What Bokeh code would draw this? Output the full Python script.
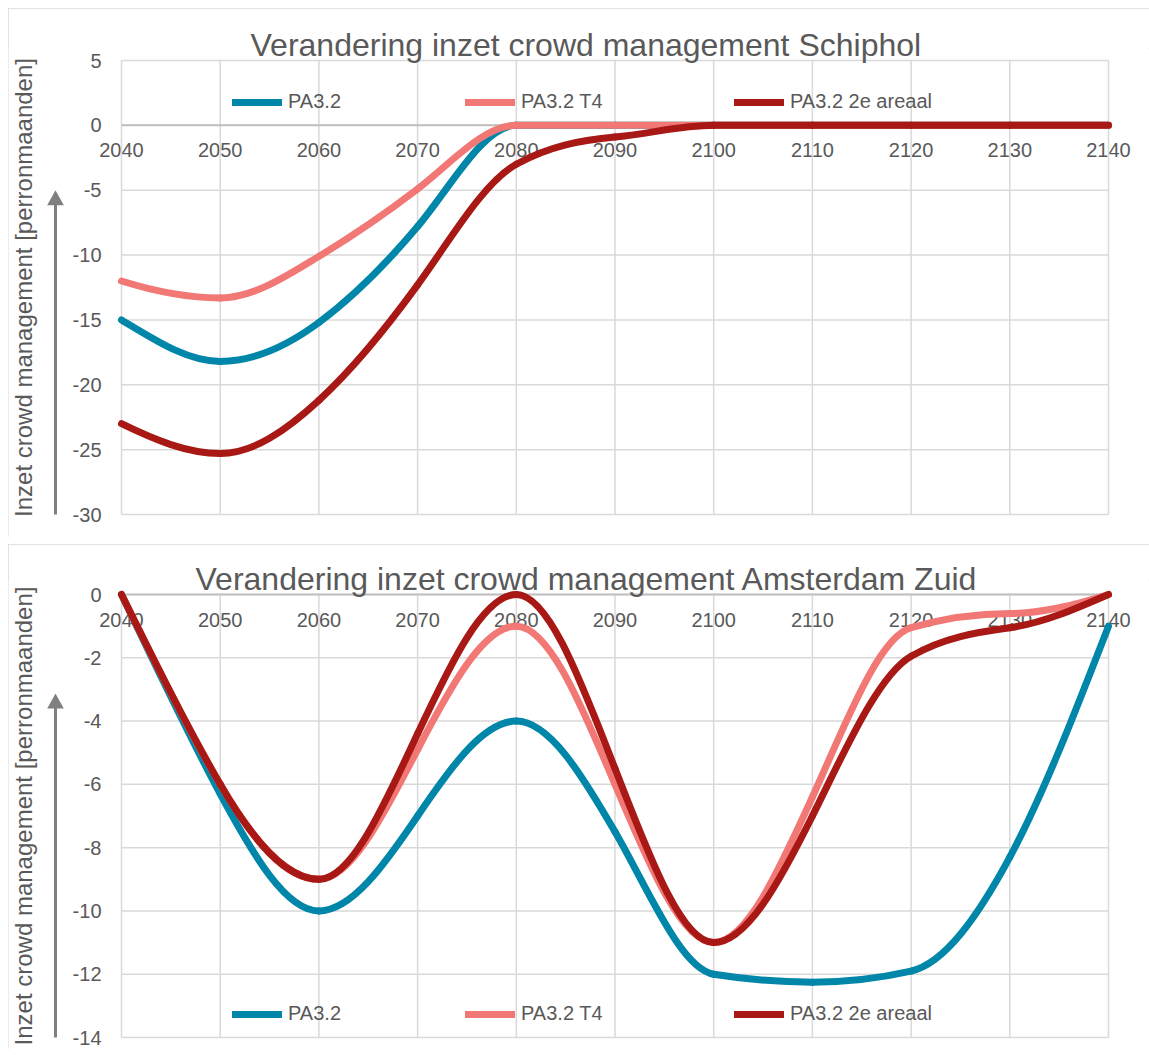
import numpy as np
from bokeh.plotting import figure
from bokeh.models import Range1d, FixedTicker, Legend, LegendItem, PolyAnnotation
from bokeh.layouts import column
from bokeh.embed import file_html
from bokeh.resources import INLINE

# ---------------- data ----------------
years = [2040, 2050, 2060, 2070, 2080, 2090, 2100, 2110, 2120, 2130, 2140]

series_names = ["PA3.2", "PA3.2 T4", "PA3.2 2e areaal"]
series_colors = ["#0086A8", "#F27875", "#A81916"]

# Schiphol
sch_pa32 = [-15.0, -18.2, -15.2, -7.8, 0, 0, 0, 0, 0, 0, 0]
sch_t4 = [-12.0, -13.3, -10.1, -4.9, 0, 0, 0, 0, 0, 0, 0]
sch_2e = [-23.0, -25.3, -21.2, -12.3, -3.0, -0.9, 0, 0, 0, 0, 0]

# Amsterdam Zuid
asd_pa32 = [0, -6.3, -10.0, -7.0, -4.0, -7.5, -12.0, -12.25, -11.9, -8.3, -1.0]
asd_t4 = [0, -6.0, -9.0, -4.9, -1.0, -6.0, -11.0, -6.4, -1.05, -0.6, 0]
asd_2e = [0, -6.0, -9.0, -4.4, 0, -5.5, -11.0, -7.0, -1.95, -1.05, 0]

sch_yticks = [5, 0, -5, -10, -15, -20, -25, -30]
asd_yticks = [0, -2, -4, -6, -8, -10, -12, -14]

title_sch = "Verandering inzet crowd management Schiphol"
title_asd = "Verandering inzet crowd management Amsterdam Zuid"
ylabel = "Inzet crowd management [perronmaanden]"

FONT = "Liberation Sans"
TXT = "#595959"
GRID = "#d9d9d9"
ARROW = "#808080"

FIG_W = 1141
PLOT_L, PLOT_W = 113, 987          # plot area inside the figure (px)
FX = PLOT_W / (years[-1] - years[0])


def spline_slopes(x, y):
    """Cubic-spline slopes with a monotonicity filter (no overshoot)."""
    x = np.asarray(x, float)
    y = np.asarray(y, float)
    n = len(x)
    h = np.diff(x)
    d = np.diff(y) / h
    A = np.zeros((n, n))
    b = np.zeros(n)
    A[0, 0], A[0, 1], b[0] = 2.0, 1.0, 3 * d[0]
    A[-1, -2], A[-1, -1], b[-1] = 1.0, 2.0, 3 * d[-1]
    for k in range(1, n - 1):
        A[k, k - 1] = h[k]
        A[k, k] = 2 * (h[k - 1] + h[k])
        A[k, k + 1] = h[k - 1]
        b[k] = 3 * (h[k] * d[k - 1] + h[k - 1] * d[k])
    m = np.linalg.solve(A, b)
    for k in range(n):
        if k == 0:
            dl = dr = d[0]
        elif k == n - 1:
            dl = dr = d[-1]
        else:
            dl, dr = d[k - 1], d[k]
        if dl * dr <= 0:
            m[k] = 0.0
            continue
        s = np.sign(dl)
        lim = 2.0 * min(abs(dl), abs(dr)) if 0 < k < n - 1 else 3.0 * abs(dl)
        if np.sign(m[k]) != s:
            m[k] = 0.0
        else:
            m[k] = s * min(abs(m[k]), lim)
    return m


def add_curve(p, xs, ys, color):
    x = np.asarray(xs, float)
    y = np.asarray(ys, float)
    m = spline_slopes(x, y)
    h = np.diff(x)
    return p.bezier(x0=x[:-1], y0=y[:-1], x1=x[1:], y1=y[1:],
                    cx0=x[:-1] + h / 3, cy0=y[:-1] + m[:-1] * h / 3,
                    cx1=x[1:] - h / 3, cy1=y[1:] - m[1:] * h / 3,
                    line_color=color, line_width=7, line_cap="round")


def make_chart(height, yr, yticks, data, title, plot_top, plot_h, top_border,
               title_standoff, title_offset, arrow_tip, leg_y):
    fy = plot_h / (yr[1] - yr[0])
    frame_h = height - top_border
    y_hi = yr[1] + (plot_top - top_border) / fy
    y_lo = y_hi - frame_h / fy
    x_lo = years[0] - PLOT_L / FX
    x_hi = x_lo + FIG_W / FX

    p = figure(width=FIG_W, height=height, x_range=Range1d(x_lo, x_hi),
               y_range=Range1d(y_lo, y_hi), output_backend="svg", toolbar_location=None,
               min_border_left=0, min_border_right=0,
               min_border_top=top_border, min_border_bottom=0,
               background_fill_color="white", border_fill_color="white",
               outline_line_color=None)
    p.styles = {"outline": "2px solid #d9d9d9", "outline-offset": "-2px"}
    p.xgrid.visible = False
    p.ygrid.visible = False

    # title
    p.title.text = title
    p.title.align = "left"
    p.title.offset = title_offset
    p.title.standoff = title_standoff
    p.title.text_font = FONT
    p.title.text_font_size = "32px"
    p.title.text_font_style = "normal"
    p.title.text_color = TXT

    # grid of the plot area
    nx, ny = len(years), len(yticks)
    p.segment(x0=years, y0=[yr[0]] * nx, x1=years, y1=[yr[1]] * nx,
              line_color=GRID, line_width=1.5)
    p.segment(x0=[years[0]] * ny, y0=yticks, x1=[years[-1]] * ny, y1=yticks,
              line_color=GRID, line_width=1.5)
    # horizontal axis line at zero
    p.segment(x0=[years[0]], y0=[0], x1=[years[-1]], y1=[0],
              line_color="#bfbfbf", line_width=2)

    xa = p.xaxis[0]
    xa.fixed_location = 0
    xa.bounds = (years[0], years[-1])
    xa.ticker = FixedTicker(ticks=years)
    xa.axis_line_color = None
    xa.major_tick_line_color = None
    xa.minor_tick_line_color = None
    xa.major_tick_out = 0
    xa.major_tick_in = 0
    xa.major_label_standoff = 18
    xa.major_label_text_font = FONT
    xa.major_label_text_font_size = "20px"
    xa.major_label_text_color = TXT
    xa.level = "underlay"

    ya = p.yaxis[0]
    ya.fixed_location = years[0]
    ya.bounds = (yr[0], yr[1])
    ya.ticker = FixedTicker(ticks=yticks)
    ya.major_label_overrides = {t: str(t) for t in yticks}
    ya.axis_line_color = None
    ya.major_tick_line_color = None
    ya.minor_tick_line_color = None
    ya.major_tick_out = 0
    ya.major_tick_in = 0
    ya.major_label_standoff = 20
    ya.major_label_text_font = FONT
    ya.major_label_text_font_size = "20px"
    ya.major_label_text_color = TXT
    ya.axis_label = ylabel
    ya.axis_label_text_font = FONT
    ya.axis_label_text_font_size = "24px"
    ya.axis_label_text_font_style = "normal"
    ya.axis_label_text_color = TXT
    ya.axis_label_standoff = 33
    ya.level = "underlay"

    # upward arrow next to the axis title
    xc = years[0] + (-66) / FX
    sw, hw, hl = 1.5 / FX, 8.3 / FX, 15 / fy
    yb = arrow_tip - hl
    p.add_layout(PolyAnnotation(
        xs=[xc - sw, xc + sw, xc + sw, xc + hw, xc, xc - hw, xc - sw],
        ys=[yr[0], yr[0], yb, yb, arrow_tip, yb, yb],
        fill_color=ARROW, fill_alpha=1.0, line_color=None))

    rends = [add_curve(p, years, vals, col) for vals, col in zip(data, series_colors)]

    leg_x = [224, 457, 726]
    for name, r, lx in zip(series_names, rends, leg_x):
        leg = Legend(items=[LegendItem(label=name, renderers=[r], index=0)],
                     location=(lx, leg_y),
                     orientation="horizontal", glyph_width=50, glyph_height=20,
                     label_height=20, label_standoff=6, padding=0, margin=0, spacing=0,
                     border_line_alpha=0, background_fill_alpha=0,
                     label_text_font=FONT, label_text_font_size="20px",
                     label_text_color=TXT)
        p.add_layout(leg)
    return p


# top chart: figure at page y 8, plot area 60..514
p1 = make_chart(529, (-30, 5), sch_yticks, [sch_pa32, sch_t4, sch_2e], title_sch,
                plot_top=52, plot_h=454, top_border=40, title_standoff=-28,
                title_offset=242, arrow_tip=-5.0, leg_y=424)
# bottom chart: figure at page y 544, plot area 594..1037
p2 = make_chart(505, (-14, 0), asd_yticks, [asd_pa32, asd_t4, asd_2e], title_asd,
                plot_top=50, plot_h=443, top_border=36, title_standoff=-33,
                title_offset=187, arrow_tip=-3.13, leg_y=24)

layout = column(p1, p2, spacing=7, margin=(8, 0, 0, 8))
open("out.html", "w").write(file_html(layout, INLINE))
